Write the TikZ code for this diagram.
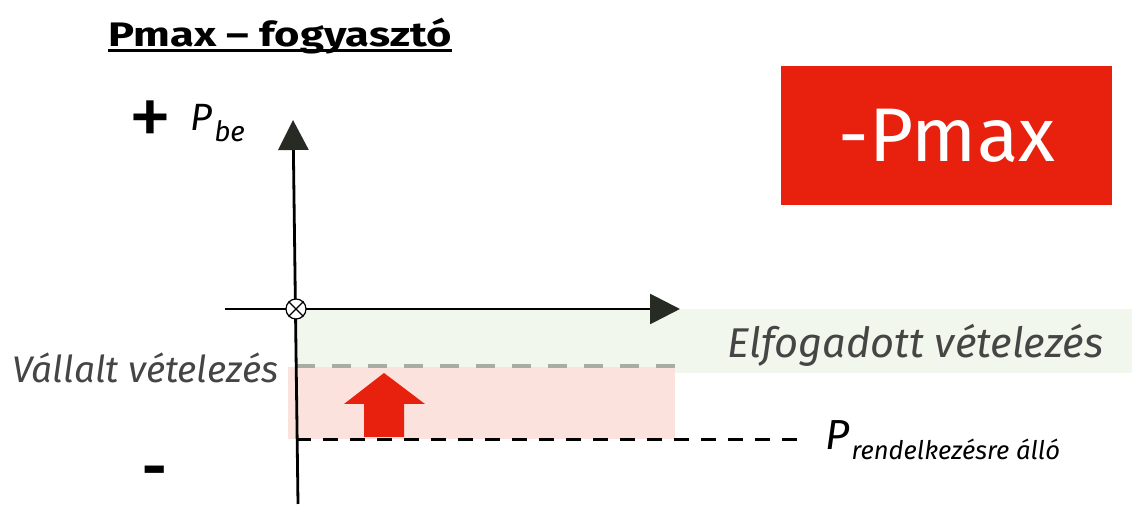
\documentclass[tikz,border=0pt]{standalone}
\usepackage{fontspec}
\setmainfont{Fira Sans}
\newfontfamily\titlefont[FakeStretch=1.28]{Fira Sans}
\usetikzlibrary{arrows.meta}
\definecolor{redbox}{HTML}{E8200E}
\definecolor{greenbg}{HTML}{F1F7EC}
\definecolor{pinkbg}{HTML}{FCE2DC}
\definecolor{dashgray}{HTML}{A8ADA3}
\definecolor{txtgray}{HTML}{454545}
\definecolor{axisdark}{HTML}{262B24}
\tikzset{
  axis/.style={line width=1.4pt, black, -{Triangle[length=15pt,width=15pt,color=axisdark]}},
  lbl/.style={inner sep=0pt, anchor=base west},
  italbl/.style={lbl, text=txtgray},
}
\begin{document}
\begin{tikzpicture}[x=0.5pt,y=-0.5pt]
\useasboundingbox (0,0) rectangle (1132,506);
% background bands
\fill[greenbg] (296,309) rectangle (1132,373);
\fill[pinkbg] (288,367) rectangle (675,439);
% dashed levels
\coordinate (g1) at (296,366); \coordinate (g2) at (682,366);
\draw[dashgray, line width=2pt, dash pattern=on 9.5pt off 8.5pt] (g1) -- (g2);
\coordinate (k1) at (296,440); \coordinate (k2) at (802,440);
\draw[black, line width=1.5pt, dash pattern=on 7.5pt off 6pt] (k1) -- (k2);
% axes
\coordinate (ybot) at (298,504); \coordinate (ytop) at (293,120);
\draw[axis] (ybot) -- (ytop);
\coordinate (xl) at (225,309); \coordinate (xr) at (680,309);
\draw[axis] (xl) -- (xr);
\node[circle, draw, fill=white, minimum size=10pt, inner sep=0pt, line width=0.6pt] (o) at (296,309) {};
\draw[line width=0.6pt] (o.45) -- (o.225) (o.135) -- (o.315);
% red arrow
\fill[redbox] (364,437) -- (404,437) -- (404,404) -- (425,404) -- (384,373) -- (344,404) -- (364,404) -- cycle;
% texts
\node[lbl, font=\titlefont\fontsize{17}{17}\selectfont\bfseries] (title) at (108,47) {Pmax – fogyasztó};
\draw[line width=1.5pt] ([yshift=-2pt]title.base west) -- ([yshift=-2pt]title.base east);
\node[font=\fontsize{44}{44}\selectfont, inner sep=0pt] (plus) at (150,124) {+};
\node[lbl, font=\fontsize{19}{19}\selectfont\itshape] (pbe) at (190,131) {P\kern1pt\raisebox{-5.5pt}{\fontsize{14}{14}\selectfont be}};
\node[font=\fontsize{30}{30}\selectfont\bfseries, inner sep=0pt] (minus) at (155,477) {-};
\node[italbl, font=\fontsize{18.5}{18.5}\selectfont\itshape] (vall) at (12,383) {Vállalt vételezés};
\node[italbl, font=\fontsize{20.8}{20.8}\selectfont\itshape] (elf) at (727,358) {Elfogadott vételezés};
\node[lbl, font=\fontsize{21}{21}\selectfont\itshape] (prend) at (825,450) {P\kern1pt\raisebox{-5pt}{\fontsize{12.8}{12.8}\selectfont rendelkezésre álló}};
\node[fill=redbox, minimum width=165.5pt, minimum height=69.5pt, anchor=north west, text=white, font=\fontsize{38}{38}\selectfont] (pmax) at (781,66) {-Pmax};
\end{tikzpicture}
\end{document}
